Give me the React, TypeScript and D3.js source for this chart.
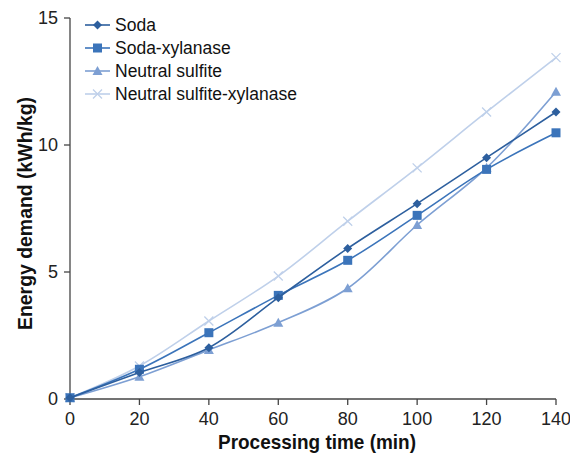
import React from "react";
import * as d3 from "d3";

const times = [0, 20, 40, 60, 80, 100, 120, 140];
const soda = [0.05, 1.04, 2.02, 3.99, 5.93, 7.69, 9.5, 11.3];
const sodaXylanase = [0.05, 1.17, 2.61, 4.08, 5.46, 7.23, 9.04, 10.48];
const neutralSulfite = [0.05, 0.88, 1.93, 3.0, 4.36, 6.85, 9.1, 12.1];
const neutralSulfiteXylanase = [0.05, 1.3, 3.07, 4.84, 7.0, 9.1, 11.3, 13.44];
const seriesNames = ["Soda", "Soda-xylanase", "Neutral sulfite", "Neutral sulfite-xylanase"];
const xTicks = [0, 20, 40, 60, 80, 100, 120, 140];
const yTicks = [0, 5, 10, 15];

const colors = ["#2D5F9E", "#3B74BA", "#7D9FD3", "#BFD0EA"];
const markers = ["diamond", "square", "triangle", "cross"];
const seriesValues = [soda, sodaXylanase, neutralSulfite, neutralSulfiteXylanase];

const FONT = "'Liberation Sans', Arial, sans-serif";

function Marker({ type, x, y, color }: { type: string; x: number; y: number; color: string }) {
  if (type === "diamond") {
    const s = 4.5;
    return <path d={`M${x},${y - s}L${x + s},${y}L${x},${y + s}L${x - s},${y}Z`} fill={color} />;
  }
  if (type === "square") {
    const s = 4.5;
    return <rect x={x - s} y={y - s} width={2 * s} height={2 * s} fill={color} />;
  }
  if (type === "triangle") {
    const s = 5;
    return <path d={`M${x},${y - s}L${x + s},${y + s * 0.8}L${x - s},${y + s * 0.8}Z`} fill={color} />;
  }
  const s = 4.5;
  return (
    <path d={`M${x - s},${y - s}L${x + s},${y + s}M${x - s},${y + s}L${x + s},${y - s}`} stroke={color} strokeWidth={1.3} fill="none" />
  );
}

export default function App() {
  const W = 570;
  const H = 461;
  const x = d3.scaleLinear().domain([0, 140]).range([70, 556]);
  const y = d3.scaleLinear().domain([0, 15]).range([399, 18]);
  const line = d3
    .line<number>()
    .x((_, i) => x(times[i]))
    .y((d) => y(d))
    .curve(d3.curveCatmullRom.alpha(0.5));

  return (
    <svg width={W} height={H} style={{ position: "absolute", left: 0, top: 0, background: "#fff" }} fontFamily={FONT}>
      {/* axes */}
      <line x1={x(0)} x2={x(0)} y1={y(15)} y2={y(0)} stroke="#444" strokeWidth={1.3} />
      <line x1={x(0)} x2={x(140)} y1={y(0)} y2={y(0)} stroke="#444" strokeWidth={1.3} />
      {yTicks.map((t) => (
        <g key={"y" + t}>
          <line x1={x(0) - 6} x2={x(0)} y1={y(t)} y2={y(t)} stroke="#444" strokeWidth={1.3} />
          <text x={x(0) - 12} y={y(t)} dy="0.35em" textAnchor="end" fontSize={18} fill="#222">
            {t}
          </text>
        </g>
      ))}
      {xTicks.map((t) => (
        <g key={"x" + t}>
          <line x1={x(t)} x2={x(t)} y1={y(0)} y2={y(0) + 6} stroke="#444" strokeWidth={1.3} />
          <text x={x(t)} y={y(0) + 26} textAnchor="middle" fontSize={18} fill="#222">
            {t}
          </text>
        </g>
      ))}
      <text
        x={317}
        y={449}
        textAnchor="middle"
        fontSize={21}
        fontWeight="bold"
        fill="#111"
        textLength={198}
        lengthAdjust="spacingAndGlyphs"
      >
        Processing time (min)
      </text>
      <text
        transform={`translate(32,213.5) rotate(-90)`}
        textAnchor="middle"
        fontSize={21}
        fontWeight="bold"
        fill="#111"
        textLength={233}
        lengthAdjust="spacingAndGlyphs"
      >
        Energy demand (kWh/kg)
      </text>

      {/* series, drawn lightest first */}
      {[3, 2, 1, 0].map((si) => (
        <g key={"s" + si}>
          <path d={line(seriesValues[si]) || ""} fill="none" stroke={colors[si]} strokeWidth={1.6} />
          {seriesValues[si].map((v, i) => (
            <Marker key={i} type={markers[si]} x={x(times[i])} y={y(v)} color={colors[si]} />
          ))}
        </g>
      ))}

      {/* legend */}
      {seriesNames.map((name, i) => {
        const cy = 25 + i * 23;
        return (
          <g key={"l" + i}>
            <line x1={85} x2={110} y1={cy} y2={cy} stroke={colors[i]} strokeWidth={1.6} />
            <Marker type={markers[i]} x={97.5} y={cy} color={colors[i]} />
            <text x={115} y={cy} dy="0.35em" fontSize={17.5} fill="#111">
              {name}
            </text>
          </g>
        );
      })}
    </svg>
  );
}
